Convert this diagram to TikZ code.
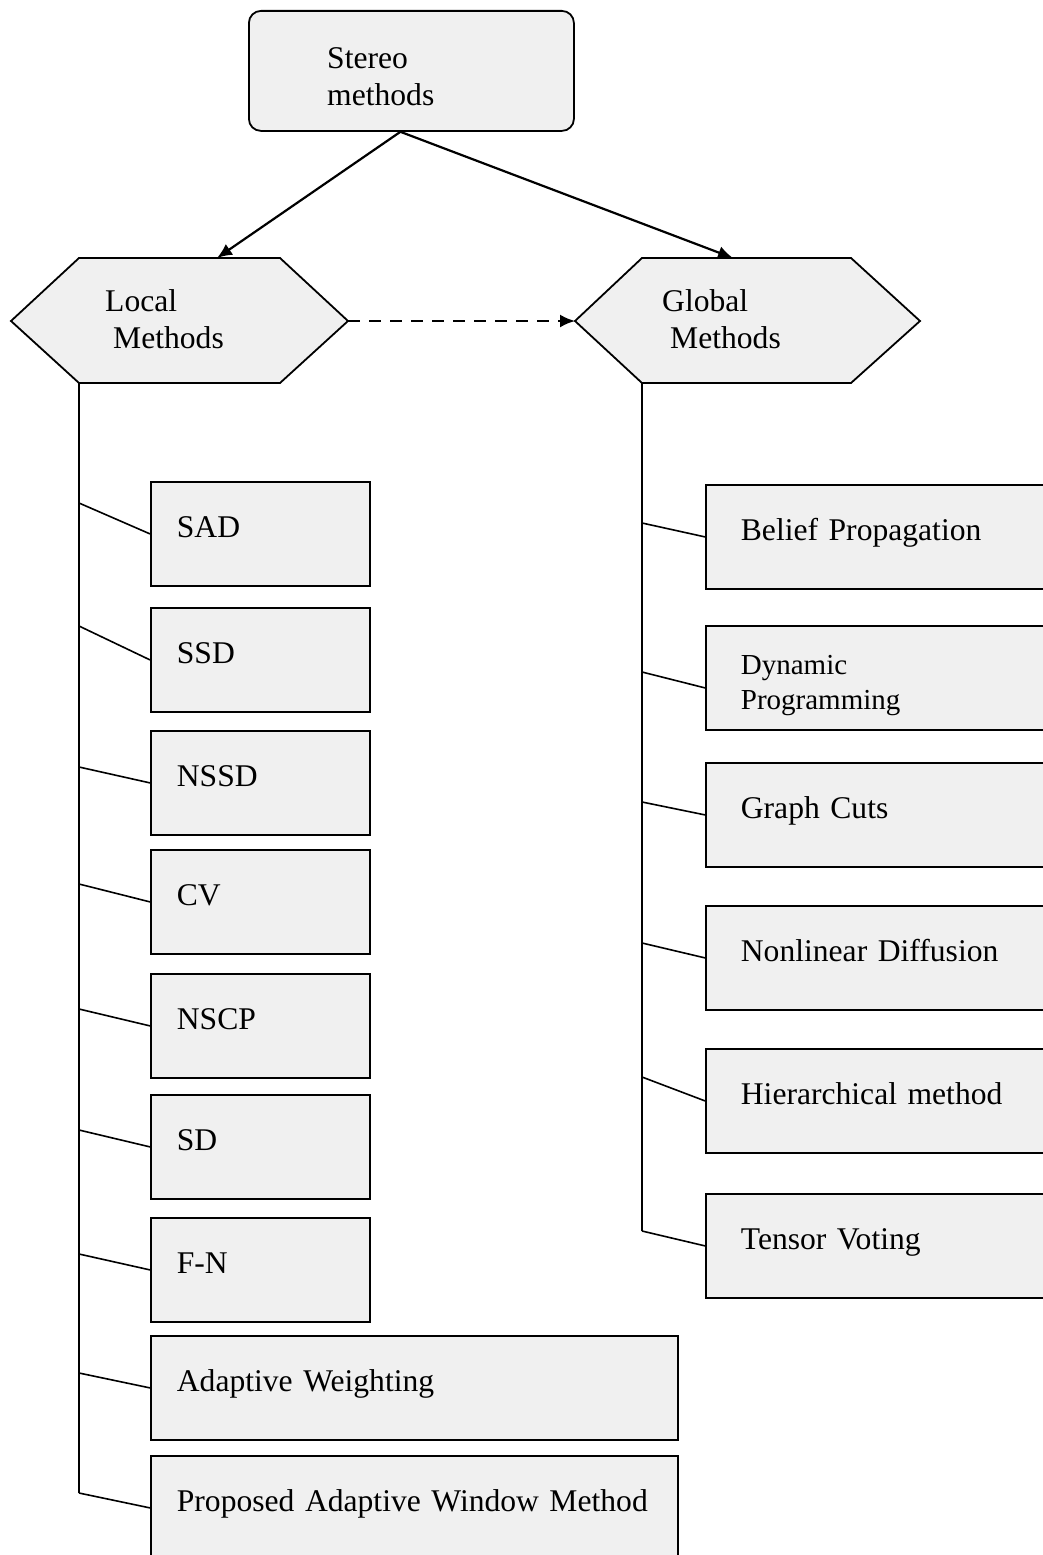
\documentclass[tikz,border=0pt]{standalone}
\usepackage{fontspec}
\setmainfont{Liberation Serif}
\usetikzlibrary{arrows.meta,positioning,calc}
\definecolor{boxfill}{RGB}{240,240,240}
\tikzset{
  boxbase/.style={draw, fill=boxfill, line width=1.8pt, minimum height=104pt, align=left, anchor=north west, font=\fontsize{31.6}{37}\selectfont},
  lbox/.style={boxbase, text width=167pt, inner xsep=26pt, text height=21pt, text depth=13pt},
  wbox/.style={lbox, text width=475pt},
  rbox/.style={lbox, text width=290pt, inner xsep=35pt},
  hexa/.style={draw, fill=boxfill, line width=1.8pt},
  txt/.style={inner sep=0pt, align=left, anchor=base west, font=\fontsize{31.6}{37}\selectfont},
  link/.style={line width=1.6pt},
  arr/.style={line width=2.2pt, -{Latex[length=15pt,width=13pt]}},
}
\begin{document}
\begin{tikzpicture}[x=1pt,y=-1pt]
\clip (0,0) rectangle (1043,1555);

% top
\node[draw, fill=boxfill, line width=1.8pt, rounded corners=12pt, minimum width=325pt, minimum height=120pt, anchor=north west] (stereo) at (248,10) {};
\node[txt] (stereotxt) at (327,105) {Stereo\\methods};

% hexagons
\path[hexa] (11,321) coordinate (LW) -- (79,258) coordinate (LNW) -- (280,258) coordinate (LNE)
  -- (348,321) coordinate (LE) -- (280,383) coordinate (LSE) -- (79,383) coordinate (LSW) -- cycle;
\node[txt] (localtxt) at (105,348) {Local\\\hspace{8pt}Methods};
\path[hexa] (575,321) coordinate (GW) -- (642,258) coordinate (GNW) -- (851,258) coordinate (GNE)
  -- (920,321) coordinate (GE) -- (851,383) coordinate (GSE) -- (642,383) coordinate (GSW) -- cycle;
\node[txt] (globaltxt) at (662,348) {Global\\\hspace{8pt}Methods};

\coordinate (ltop) at (217,258);
\coordinate (gtop) at (733,258);
\draw[arr] ([xshift=-11pt]stereo.south) -- (ltop);
\draw[arr] ([xshift=-11pt]stereo.south) -- (gtop);
\draw[arr, dash pattern=on 12pt off 9pt] (LE) -- (GW);

% local methods
\foreach \name/\sty/\top/\tap [count=\n] in {SAD/lbox/481/503, SSD/lbox/607/626, NSSD/lbox/730/767,
    CV/lbox/849/884, NSCP/lbox/973/1009, SD/lbox/1094/1130, F-N/lbox/1217/1254,
    Adaptive Weighting/wbox/1335/1373, Proposed Adaptive Window Method/wbox/1455/1493}{
  \node[\sty] (L\n) at (150,\top) {\name};
  \coordinate (LT\n) at (79,\tap);
  \draw[link] (LT\n) -- (L\n.west);
}
\draw[link] (LSW) -- (LT9);

% global methods
\foreach \id/\name/\top/\tap in {bp/Belief Propagation/484/523, gc/Graph Cuts/762/802,
    nd/Nonlinear Diffusion/905/943, hm/Hierarchical method/1048/1077, tv/Tensor Voting/1193/1231}{
  \node[rbox] (\id) at (705,\top) {\name};
  \coordinate (RT\id) at (642,\tap);
  \draw[link] (RT\id) -- (\id.west);
}
\node[boxbase, text width=290pt, inner xsep=35pt, text height=20pt, text depth=27pt, font=\fontsize{29}{35}\selectfont] (dp) at (705,625) {Dynamic\\Programming};
\coordinate (RTdp) at (642,672);
\draw[link] (RTdp) -- ([yshift=-10pt]dp.west);
\draw[link] (GSW) -- (RTtv);
\end{tikzpicture}
\end{document}
